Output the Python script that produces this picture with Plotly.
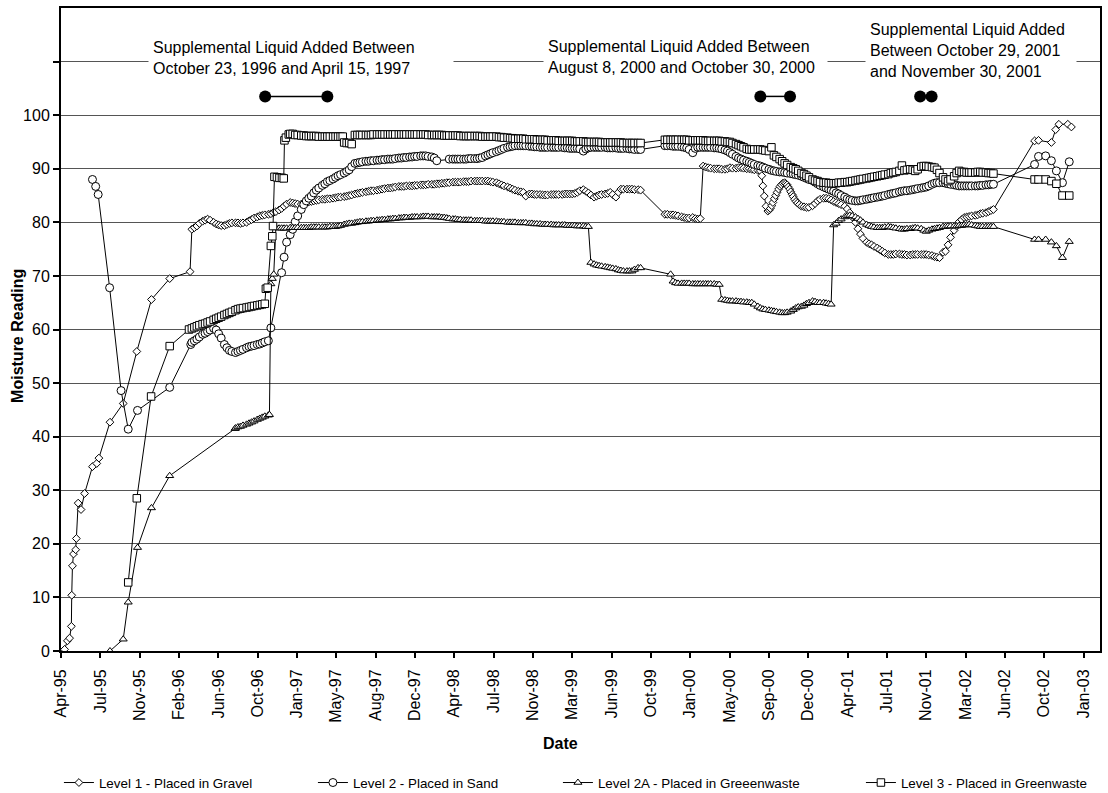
import plotly.graph_objects as go

FONT = "Arial, 'Liberation Sans', sans-serif"

# Routine monitoring days within each month; monthly rows below list the
# readings taken on these days (None = no reading that day).
READING_DAYS = (1, 8, 15, 22)

# ---------------- Level 1 - Placed in Gravel ----------------
L1_SPOT = [
    ("1995-04-11", 0.3), ("1995-04-19", 1.9), ("1995-04-25", 2.4), ("1995-04-30", 4.6),
    ("1995-05-01", 10.4), ("1995-05-03", 15.9), ("1995-05-06", 18.1), ("1995-05-12", 18.9),
    ("1995-05-14", 21.0), ("1995-05-19", 27.6), ("1995-05-27", 26.4), ("1995-06-06", 29.4),
    ("1995-06-28", 34.4), ("1995-07-10", 35.0), ("1995-07-16", 36.0), ("1995-08-16", 42.7),
    ("1995-09-22", 46.2), ("1995-10-30", 55.9), ("1995-12-10", 65.6), ("1996-01-30", 69.5),
    ("1996-03-27", 70.8),
    ("2000-08-12", 88.7), ("2000-08-15", 86.8), ("2000-08-19", 84.9), ("2000-08-24", 83.0),
    ("2000-08-29", 82.1), ("2000-09-02", 82.3), ("2000-09-05", 82.6), ("2000-09-09", 83.1),
    ("2000-09-12", 83.7), ("2000-09-16", 84.4), ("2000-09-20", 85.0), ("2000-09-24", 85.6),
    ("2000-09-28", 86.2), ("2000-10-02", 86.7), ("2000-10-06", 87.0), ("2000-10-10", 87.3),
    ("2000-10-15", 87.4), ("2000-10-18", 87.2), ("2000-10-22", 87.0), ("2000-10-25", 86.6),
    ("2000-10-29", 86.2), ("2000-11-01", 85.7), ("2000-11-05", 85.2), ("2000-11-08", 84.8),
    ("2000-11-12", 84.3), ("2000-11-16", 83.9), ("2000-11-20", 83.6), ("2000-11-25", 83.3),
    ("2002-09-14", 95.2), ("2002-09-25", 95.3), ("2002-10-31", 94.9), ("2002-11-12", 97.3),
    ("2002-11-21", 98.3), ("2002-12-16", 98.3), ("2002-12-26", 97.8),
]
L1_MONTHLY = [
    ("1996-04", 78.7, 79.0, 79.3, 79.8), ("1996-05", 80.2, 80.4, 80.6, 80.4),
    ("1996-06", 80.0, 79.7, 79.5, 79.4), ("1996-07", 79.4, 79.6, 79.8, 79.9),
    ("1996-08", 79.9, 79.9, 79.8, 79.9), ("1996-09", 80.0, 80.3, 80.5, 80.8),
    ("1996-10", 81.0, 81.2, 81.3, 81.4), ("1996-11", 81.5, 81.6, 81.8, 82.0),
    ("1996-12", 82.3, 82.6, 83.0, 83.4), ("1997-01", 83.7, 83.6, 83.5, 83.4),
    ("1997-02", 83.4, 83.5, 83.7, 83.8), ("1997-03", 83.9, 84.0, 84.1, 84.2),
    ("1997-04", 84.3, 84.3, 84.4, 84.4), ("1997-05", 84.5, 84.6, 84.7, 84.7),
    ("1997-06", 84.8, 84.9, 85.0, 85.1), ("1997-07", 85.3, 85.4, 85.5, 85.6),
    ("1997-08", 85.7, 85.8, 85.9, 85.9), ("1997-09", 86.0, 86.1, 86.2, 86.3),
    ("1997-10", 86.4, 86.4, 86.5, 86.6), ("1997-11", 86.7, 86.7, 86.7, 86.8),
    ("1997-12", 86.8, 86.8, 86.9, 86.9), ("1998-01", 87.0, 87.0, 87.0, 87.1),
    ("1998-02", 87.1, 87.1, 87.2, 87.2), ("1998-03", 87.3, 87.3, 87.4, 87.4),
    ("1998-04", 87.5, 87.5, 87.5, 87.5), ("1998-05", 87.6, 87.6, 87.6, 87.7),
    ("1998-06", 87.7, 87.7, 87.7, 87.7), ("1998-07", 87.7, 87.7, 87.6, 87.5),
    ("1998-08", 87.4, 87.2, 87.0, 86.8), ("1998-09", 86.6, 86.4, 86.2, 86.0),
    ("1998-10", 85.8, 85.7, 85.6, 84.9), ("1998-11", 85.3, 85.3, 85.2, 85.2),
    ("1998-12", 85.2, 85.1, 85.1, 85.1), ("1999-01", 85.2, 85.2, 85.2, 85.2),
    ("1999-02", 85.2, 85.3, 85.3, 85.3), ("1999-03", 85.3, 85.4, 85.6, 85.9),
    ("1999-04", 86.1, 85.8, 85.5, 85.1), ("1999-05", 84.7, 84.9, 85.1, 85.2),
    ("1999-06", 85.3, 85.4, 85.6, 85.2), ("1999-07", 84.7, 85.6, 86.2, 86.2),
    ("1999-08", 86.2, 86.2, 86.2, 86.1), ("1999-09", 86.1, 86.0, None, None),
    ("1999-11", None, None, 81.5, 81.5), ("1999-12", 81.4, 81.4, 81.3, 81.2),
    ("2000-01", 81.0, 80.9, 80.8, 80.8), ("2000-02", 80.9, 80.7, 80.6, 80.7),
    ("2000-03", 90.5, 90.3, 90.2, 90.1), ("2000-04", 90.0, 90.0, 90.0, 89.9),
    ("2000-05", 89.9, 90.0, 90.2, 90.1), ("2000-06", 90.1, 90.2, 90.2, 90.1),
    ("2000-07", 90.0, 90.0, 89.9, 89.8), ("2000-08", 89.7, 89.6, None, None),
    ("2000-12", 83.0, 82.9, 82.8, 82.8), ("2001-01", 83.1, 83.5, 84.0, 84.3),
    ("2001-02", 84.5, 84.5, 84.4, 84.2), ("2001-03", 83.9, 83.7, 83.5, 83.3),
    ("2001-04", 83.0, 82.5, 81.8, 81.0), ("2001-05", 80.0, 78.8, 77.8, 77.0),
    ("2001-06", 76.3, 76.0, 75.8, 75.5), ("2001-07", 75.2, 74.9, 74.6, 74.3),
    ("2001-08", 74.0, 74.0, 74.0, 74.1), ("2001-09", 74.1, 74.0, 74.0, 73.9),
    ("2001-10", 73.9, 74.0, 74.0, 74.0), ("2001-11", 74.0, 74.0, 74.0, 73.9),
    ("2001-12", 73.8, 73.6, 73.5, 73.4), ("2002-01", 74.4, 74.6, 75.8, 77.2),
    ("2002-02", 78.5, 79.3, 80.1, 80.5), ("2002-03", 80.9, 81.0, 81.1, 81.2),
    ("2002-04", 81.3, 81.4, 81.6, 81.7), ("2002-05", 81.8, 82.0, 82.2, 82.4),
]

# ---------------- Level 2 - Placed in Sand ----------------
L2_SPOT = [
    ("1995-06-28", 88.0), ("1995-07-07", 86.7), ("1995-07-14", 85.2), ("1995-08-15", 67.8),
    ("1995-09-16", 48.6), ("1995-10-06", 41.4), ("1995-11-01", 44.9), ("1996-01-30", 49.2),
    ("1996-03-29", 57.2),
    ("2002-09-14", 90.8), ("2002-09-25", 92.3), ("2002-10-15", 92.4), ("2002-10-31", 91.5),
    ("2002-11-14", 89.6), ("2002-12-01", 87.4), ("2002-12-20", 91.3),
]
L2_MONTHLY = [
    ("1996-04", 57.6, 57.9, 58.2, 58.6), ("1996-05", 59.1, 59.3, 59.6, 59.9),
    ("1996-06", 60.2, 59.9, 59.2, 58.4), ("1996-07", 57.2, 56.6, 56.1, 55.9),
    ("1996-08", 55.7, 55.9, 56.1, 56.3), ("1996-09", 56.6, 56.8, 56.9, 57.0),
    ("1996-10", 57.2, 57.3, 57.5, 57.7), ("1996-11", 57.9, 60.3, None, None),
    ("1996-12", None, 70.6, 73.5, 76.3), ("1997-01", 77.7, 78.7, 80.1, 81.2),
    ("1997-02", 82.4, 83.3, 84.0, 84.5), ("1997-03", 84.9, 85.5, 86.0, 86.4),
    ("1997-04", 86.9, 87.2, 87.6, 87.8), ("1997-05", 88.1, 88.4, 88.7, 88.9),
    ("1997-06", 89.2, 89.5, 89.8, 90.4), ("1997-07", 91.0, 91.1, 91.2, 91.3),
    ("1997-08", 91.4, 91.4, 91.5, 91.5), ("1997-09", 91.6, 91.6, 91.7, 91.7),
    ("1997-10", 91.8, 91.8, 91.8, 91.9), ("1997-11", 92.0, 92.0, 92.1, 92.1),
    ("1997-12", 92.2, 92.2, 92.3, 92.3), ("1998-01", 92.4, 92.4, 92.4, 92.3),
    ("1998-02", 92.2, 92.0, 91.5, None), ("1998-03", None, None, None, 91.8),
    ("1998-04", 91.8, 91.8, 91.8, 91.8), ("1998-05", 91.8, 91.8, 91.9, 91.9),
    ("1998-06", 91.9, 91.9, 92.0, 92.1), ("1998-07", 92.4, 92.6, 92.8, 93.0),
    ("1998-08", 93.2, 93.4, 93.6, 93.8), ("1998-09", 94.0, 94.1, 94.2, 94.3),
    ("1998-10", 94.3, 94.3, 94.3, 94.3), ("1998-11", 94.2, 94.2, 94.1, 94.1),
    ("1998-12", 94.0, 94.0, 94.0, 94.0), ("1999-01", 94.0, 94.0, 94.0, 94.0),
    ("1999-02", 94.0, 93.9, 93.9, 93.8), ("1999-03", 93.8, 93.8, 93.8, 93.7),
    ("1999-04", 93.3, 93.7, 93.9, 94.0), ("1999-05", 94.0, 94.0, 94.0, 94.0),
    ("1999-06", 94.0, 93.9, 93.9, 93.9), ("1999-07", 93.9, 93.8, 93.8, 93.8),
    ("1999-08", 93.8, 93.7, 93.7, 93.6), ("1999-09", 93.6, 93.6, None, None),
    ("1999-11", None, None, 94.3, 94.3), ("1999-12", 94.3, 94.2, 94.2, 94.2),
    ("2000-01", 94.1, 94.0, 93.9, 93.6), ("2000-02", 93.0, 93.8, 94.0, 94.0),
    ("2000-03", 94.0, 94.0, 94.0, 94.0), ("2000-04", 93.9, 93.9, 93.8, 93.7),
    ("2000-05", 93.5, 93.3, 93.0, 92.7), ("2000-06", 92.3, 92.0, 91.8, 91.6),
    ("2000-07", 91.4, 91.2, 91.0, 90.8), ("2000-08", 90.6, 90.5, 90.3, 90.1),
    ("2000-09", 89.9, 89.7, 89.6, 89.5), ("2000-10", 89.4, 89.4, 89.3, 89.2),
    ("2000-11", 89.1, 89.0, 88.9, 88.8), ("2000-12", 88.6, 88.4, 88.2, 88.0),
    ("2001-01", 87.8, 87.5, 87.2, 86.9), ("2001-02", 86.6, 86.4, 86.2, 86.0),
    ("2001-03", 85.8, 85.5, 85.3, 85.0), ("2001-04", 84.7, 84.4, 84.2, 84.1),
    ("2001-05", 84.0, 84.0, 84.1, 84.2), ("2001-06", 84.3, 84.4, 84.5, 84.6),
    ("2001-07", 84.7, 84.8, 84.9, 85.0), ("2001-08", 85.2, 85.3, 85.4, 85.5),
    ("2001-09", 85.7, 85.8, 85.9, 85.9), ("2001-10", 86.0, 86.1, 86.2, 86.3),
    ("2001-11", 86.4, 86.5, 86.6, 86.8), ("2001-12", 87.1, 87.3, 87.4, 87.4),
    ("2002-01", 87.4, 87.3, 87.2, 87.1), ("2002-02", 87.0, 86.9, 86.8, 86.8),
    ("2002-03", 86.8, 86.8, 86.8, 86.8), ("2002-04", 86.8, 86.8, 86.9, 86.9),
    ("2002-05", 87.0, 87.0, 87.1, 87.1),
]

# ---------------- Level 2A - Placed in Greeenwaste ----------------
L2A_SPOT = [
    ("1995-08-16", 0.0), ("1995-09-22", 2.2), ("1995-10-06", 9.1), ("1995-11-01", 19.3),
    ("1995-12-10", 26.7), ("1996-01-30", 32.7), ("1996-07-31", 41.5),
    ("1996-11-04", 44.1), ("1996-11-08", 68.5), ("1996-11-12", 69.5), ("1996-11-16", 70.3),
    ("1996-11-22", 79.0),
    ("2002-09-14", 76.8), ("2002-09-25", 76.8), ("2002-10-15", 76.8), ("2002-10-31", 76.3),
    ("2002-11-14", 75.6), ("2002-12-01", 73.4), ("2002-12-20", 76.4),
]
L2A_MONTHLY = [
    ("1996-08", 41.6, 41.8, 41.9, 42.1), ("1996-09", 42.3, 42.5, 42.7, 42.9),
    ("1996-10", 43.2, 43.4, 43.6, 43.8), ("1996-11", 44.0, None, None, None),
    ("1996-12", 78.9, 78.9, 78.9, 78.9), ("1997-01", 79.0, 79.0, 79.0, 79.0),
    ("1997-02", 79.0, 79.0, 79.0, 79.0), ("1997-03", 79.1, 79.1, 79.1, 79.1),
    ("1997-04", 79.1, 79.1, 79.1, 79.2), ("1997-05", 79.2, 79.2, 79.3, 79.4),
    ("1997-06", 79.6, 79.7, 79.8, 79.8), ("1997-07", 79.9, 80.0, 80.1, 80.1),
    ("1997-08", 80.2, 80.2, 80.3, 80.3), ("1997-09", 80.4, 80.4, 80.5, 80.5),
    ("1997-10", 80.6, 80.6, 80.7, 80.7), ("1997-11", 80.8, 80.8, 80.9, 80.9),
    ("1997-12", 80.9, 81.0, 81.0, 81.0), ("1998-01", 81.0, 81.1, 81.1, 81.1),
    ("1998-02", 81.0, 81.0, 81.0, 81.0), ("1998-03", 80.9, 80.9, 80.8, 80.7),
    ("1998-04", 80.6, 80.6, 80.5, 80.5), ("1998-05", 80.4, 80.4, 80.4, 80.4),
    ("1998-06", 80.3, 80.3, 80.3, 80.3), ("1998-07", 80.2, 80.2, 80.2, 80.2),
    ("1998-08", 80.2, 80.1, 80.1, 80.1), ("1998-09", 80.0, 80.0, 80.0, 80.0),
    ("1998-10", 79.9, 79.9, 79.9, 79.9), ("1998-11", 79.8, 79.8, 79.7, 79.7),
    ("1998-12", 79.7, 79.6, 79.6, 79.6), ("1999-01", 79.6, 79.5, 79.5, 79.5),
    ("1999-02", 79.5, 79.5, 79.4, 79.4), ("1999-03", 79.4, 79.4, 79.3, 79.3),
    ("1999-04", 79.3, 79.2, 79.2, 72.5), ("1999-05", 72.2, 72.0, 71.9, 71.8),
    ("1999-06", 71.7, 71.6, 71.5, 71.4), ("1999-07", 71.3, 71.1, 71.0, 70.9),
    ("1999-08", 70.9, 70.9, 70.9, 71.2), ("1999-09", 71.5, 71.5, None, None),
    ("1999-12", 70.3, 69.0, 68.7, 68.6), ("2000-01", 68.6, 68.6, 68.6, 68.6),
    ("2000-02", 68.5, 68.5, 68.5, 68.5), ("2000-03", 68.5, 68.5, 68.5, 68.5),
    ("2000-04", 68.5, 68.4, 68.4, 65.6), ("2000-05", 65.5, 65.4, 65.3, 65.3),
    ("2000-06", 65.3, 65.2, 65.2, 65.1), ("2000-07", 65.1, 65.0, 65.0, 64.7),
    ("2000-08", 64.3, 64.0, 63.8, 63.7), ("2000-09", 63.6, 63.5, 63.4, 63.3),
    ("2000-10", 63.2, 63.1, 63.1, 63.2), ("2000-11", 63.4, 63.7, 64.0, 64.2),
    ("2000-12", 64.3, 64.5, 64.8, 65.0), ("2001-01", 65.3, 65.2, 65.0, 65.0),
    ("2001-02", 65.0, 64.9, 64.8, 64.7), ("2001-03", 79.5, 79.8, 80.3, 80.6),
    ("2001-04", 81.0, 81.2, 81.3, 81.2), ("2001-05", 81.0, 80.7, 80.4, 80.0),
    ("2001-06", 79.6, 79.4, 79.2, 79.1), ("2001-07", 79.0, 79.0, 79.0, 79.1),
    ("2001-08", 79.2, 79.1, 79.0, 78.9), ("2001-09", 78.8, 78.7, 78.7, 78.8),
    ("2001-10", 78.8, 78.9, 79.0, 78.9), ("2001-11", 78.8, 78.5, 78.3, 78.5),
    ("2001-12", 78.7, 78.8, 78.9, 79.0), ("2002-01", 79.2, 79.2, 79.3, 79.3),
    ("2002-02", 79.3, 79.3, 79.4, 79.4), ("2002-03", 79.5, 79.5, 79.6, 79.5),
    ("2002-04", 79.4, 79.3, 79.2, 79.2), ("2002-05", 79.2, 79.2, 79.2, 79.2),
]

# ---------------- Level 3 - Placed in Greenwaste ----------------
L3_SPOT = [
    ("1995-10-06", 12.8), ("1995-10-30", 28.5), ("1995-12-09", 47.5), ("1996-01-30", 56.9),
    ("1996-03-24", 60.0),
    ("1996-10-25", 67.6), ("1996-10-30", 67.8), ("1996-11-08", 75.6), ("1996-11-12", 77.4),
    ("1996-11-14", 79.3), ("1996-11-18", 88.5), ("1996-11-25", 88.4), ("1996-12-02", 88.3),
    ("1996-12-09", 88.3), ("1996-12-14", 88.2), ("1996-12-16", 95.3), ("1996-12-20", 95.8),
    ("1996-12-28", 96.4), ("1997-05-28", 96.0),
    ("2002-09-14", 88.0), ("2002-09-25", 88.0), ("2002-10-15", 88.0), ("2002-10-31", 87.7),
    ("2002-11-14", 87.2), ("2002-12-01", 85.0), ("2002-12-20", 85.0),
]
L3_MONTHLY = [
    ("1996-04", 60.2, 60.4, 60.6, 60.8), ("1996-05", 61.0, 61.1, 61.3, 61.5),
    ("1996-06", 61.8, 62.0, 62.2, 62.4), ("1996-07", 62.7, 62.9, 63.1, 63.3),
    ("1996-08", 63.6, 63.8, 63.9, 64.0), ("1996-09", 64.1, 64.2, 64.3, 64.4),
    ("1996-10", 64.5, 64.6, 64.7, 64.8), ("1997-01", 96.5, 96.5, 96.3, 96.3),
    ("1997-02", 96.2, 96.2, 96.1, 96.1), ("1997-03", 96.1, 96.1, 96.1, 96.0),
    ("1997-04", 96.0, 96.0, 96.0, 96.0), ("1997-05", 96.0, 96.0, 96.0, 96.0),
    ("1997-06", 94.9, 94.8, 94.8, 94.6), ("1997-07", 96.3, 96.3, 96.3, 96.3),
    ("1997-08", 96.3, 96.3, 96.3, 96.4), ("1997-09", 96.4, 96.4, 96.4, 96.4),
    ("1997-10", 96.4, 96.4, 96.4, 96.4), ("1997-11", 96.4, 96.4, 96.4, 96.4),
    ("1997-12", 96.4, 96.4, 96.4, 96.4), ("1998-01", 96.4, 96.4, 96.4, 96.3),
    ("1998-02", 96.3, 96.3, 96.3, 96.3), ("1998-03", 96.3, 96.2, 96.2, 96.2),
    ("1998-04", 96.2, 96.2, 96.2, 96.1), ("1998-05", 96.1, 96.1, 96.1, 96.1),
    ("1998-06", 96.1, 96.1, 96.1, 96.0), ("1998-07", 96.0, 96.0, 96.0, 96.0),
    ("1998-08", 96.0, 95.9, 95.9, 95.8), ("1998-09", 95.8, 95.7, 95.7, 95.6),
    ("1998-10", 95.6, 95.6, 95.6, 95.5), ("1998-11", 95.5, 95.5, 95.5, 95.4),
    ("1998-12", 95.4, 95.4, 95.4, 95.3), ("1999-01", 95.3, 95.3, 95.3, 95.2),
    ("1999-02", 95.2, 95.2, 95.2, 95.2), ("1999-03", 95.2, 95.1, 95.1, 95.1),
    ("1999-04", 95.1, 95.0, 95.0, 95.0), ("1999-05", 95.0, 95.0, 95.0, 94.9),
    ("1999-06", 94.9, 94.9, 94.9, 94.9), ("1999-07", 94.9, 94.9, 94.9, 94.8),
    ("1999-08", 94.8, 94.8, 94.8, 94.8), ("1999-09", 94.8, 94.8, None, None),
    ("1999-11", None, None, 95.4, 95.4), ("1999-12", 95.4, 95.4, 95.4, 95.4),
    ("2000-01", 95.4, 95.4, 95.4, 95.3), ("2000-02", 95.3, 95.3, 95.3, 95.3),
    ("2000-03", 95.3, 95.2, 95.2, 95.2), ("2000-04", 95.2, 95.2, 95.2, 95.1),
    ("2000-05", 95.1, 95.0, 95.0, 94.8), ("2000-06", 94.6, 94.4, 94.2, 94.0),
    ("2000-07", 93.7, 93.6, 93.6, 93.6), ("2000-08", 93.6, 93.6, 93.5, 93.4),
    ("2000-09", 93.3, 94.0, 92.5, 92.2), ("2000-10", 91.8, 91.4, 91.0, 90.7),
    ("2000-11", 90.3, 90.1, 89.9, 89.6), ("2000-12", 89.2, 89.0, 88.7, 88.4),
    ("2001-01", 88.0, 87.8, 87.7, 87.5), ("2001-02", 87.4, 87.4, 87.3, 87.3),
    ("2001-03", 87.3, 87.3, 87.4, 87.4), ("2001-04", 87.5, 87.5, 87.6, 87.7),
    ("2001-05", 87.8, 87.9, 88.0, 88.1), ("2001-06", 88.2, 88.3, 88.4, 88.5),
    ("2001-07", 88.6, 88.7, 88.8, 88.9), ("2001-08", 89.0, 89.2, 89.3, 89.4),
    ("2001-09", 89.6, 90.6, 89.7, 89.8), ("2001-10", 89.9, 89.8, 89.6, 89.9),
    ("2001-11", 90.4, 90.5, 90.5, 90.4), ("2001-12", 90.3, 90.2, 89.8, 89.2),
    ("2002-01", 88.4, 88.0, 87.7, 88.0), ("2002-02", 88.6, 89.2, 89.6, 89.4),
    ("2002-03", 89.4, 89.3, 89.3, 89.3), ("2002-04", 89.3, 89.4, 89.4, 89.3),
    ("2002-05", 89.3, 89.2, 89.2, 89.1),
]

SERIES_NAMES = [
    "Level 1 - Placed in Gravel",
    "Level 2 - Placed in Sand",
    "Level 2A - Placed in Greeenwaste",
    "Level 3 - Placed in Greenwaste",
]

# Supplemental liquid addition periods: (start, end, caption)
SUPPLEMENT_PERIODS = [
    ("1996-10-23", "1997-04-15",
     "Supplemental Liquid Added Between<br>October 23, 1996 and April 15, 1997"),
    ("2000-08-08", "2000-10-30",
     "Supplemental Liquid Added Between<br>August 8, 2000 and October 30, 2000"),
    ("2001-10-29", "2001-11-30",
     "Supplemental Liquid Added<br>Between October 29, 2001<br>and November 30, 2001"),
]
PERIOD_MARK_LEVEL = 103.5

# Date axis ticks (110-day major unit)
TICK_DATES = [
    "1995-04-01", "1995-07-20", "1995-11-07", "1996-02-25", "1996-06-14", "1996-10-02",
    "1997-01-20", "1997-05-10", "1997-08-28", "1997-12-16", "1998-04-05", "1998-07-24",
    "1998-11-11", "1999-03-01", "1999-06-19", "1999-10-07", "2000-01-25", "2000-05-14",
    "2000-09-01", "2000-12-20", "2001-04-09", "2001-07-28", "2001-11-15", "2002-03-05",
    "2002-06-23", "2002-10-11", "2003-01-29",
]
Y_TICKS = [0, 10, 20, 30, 40, 50, 60, 70, 80, 90, 100, 110]
Y_TICK_TEXT = ["0", "10", "20", "30", "40", "50", "60", "70", "80", "90", "100", ""]

X_RANGE = ["1995-04-01", "2003-03-16"]
Y_RANGE = [0, 120]


def combine(spot, monthly):
    """Merge spot readings with the routine monthly rows, ordered by date."""
    pts = list(spot)
    for month, *vals in monthly:
        for day, v in zip(READING_DAYS, vals):
            if v is not None:
                pts.append((f"{month}-{day:02d}", v))
    pts.sort()
    return pts


SERIES_DATA = [
    combine(L1_SPOT, L1_MONTHLY),
    combine(L2_SPOT, L2_MONTHLY),
    combine(L2A_SPOT, L2A_MONTHLY),
    combine(L3_SPOT, L3_MONTHLY),
]

# marker style per series: (symbol, size, legend entry width)
STYLES = [("diamond", 6, 209), ("circle", 8, 200), ("triangle-up", 7, 258), ("square", 7.5, 200)]

fig = go.Figure()

for name, readings, (symbol, size, lw) in zip(SERIES_NAMES, SERIES_DATA, STYLES):
    fig.add_trace(go.Scatter(
        x=[d for d, _ in readings],
        y=[v for _, v in readings],
        name=name,
        mode="lines+markers",
        line=dict(color="black", width=1),
        marker=dict(symbol=symbol, size=size, color="white",
                    line=dict(color="black", width=1)),
        legendwidth=lw,
    ))

# period markers: filled dots joined by a line
px, py = [], []
for start, end, _ in SUPPLEMENT_PERIODS:
    px += [start, end, None]
    py += [PERIOD_MARK_LEVEL, PERIOD_MARK_LEVEL, None]
fig.add_trace(go.Scatter(
    x=px, y=py, mode="lines+markers", showlegend=False,
    line=dict(color="black", width=1.5),
    marker=dict(symbol="circle", size=12, color="black"),
))

# caption boxes (left edge in paper coords, vertical centre, box width)
CAPTION_BOXES = [(0.0837, 0.923, 296), (0.4639, 0.9243, 275), (0.7738, 0.9339, 202)]
annotations = []
for (_, _, text), (bx, by, bw) in zip(SUPPLEMENT_PERIODS, CAPTION_BOXES):
    annotations.append(dict(
        text=text, xref="paper", yref="paper", x=bx, y=by,
        xanchor="left", yanchor="middle", align="left", showarrow=False,
        width=bw, bgcolor="white", borderpad=4,
        font=dict(family=FONT, size=16, color="black"),
    ))

annotations.append(dict(
    text="<b>Moisture Reading</b>", xref="paper", yref="paper",
    x=-0.0414, y=0.49, xanchor="center", yanchor="middle", textangle=-90,
    showarrow=False, font=dict(family=FONT, size=16, color="black"),
))
annotations.append(dict(
    text="<b>Date</b>", xref="paper", yref="paper",
    x=0.481, y=-0.1446, xanchor="center", yanchor="middle",
    showarrow=False, font=dict(family=FONT, size=16, color="black"),
))

fig.update_layout(
    width=1108, height=793,
    margin=dict(l=61, r=8, t=8, b=142, autoexpand=False),
    paper_bgcolor="white", plot_bgcolor="white",
    font=dict(family=FONT, size=16, color="black"),
    annotations=annotations,
    legend=dict(
        orientation="h", x=-0.002, y=-0.205, xanchor="left", yanchor="middle",
        font=dict(family=FONT, size=13.4, color="black"),
        itemwidth=30, bgcolor="rgba(0,0,0,0)", borderwidth=0,
        traceorder="normal",
    ),
    xaxis=dict(
        type="date", range=X_RANGE, tickvals=TICK_DATES, tickformat="%b-%y",
        tickangle=-90, ticks="outside", ticklen=5, tickwidth=1.5, tickcolor="black",
        ticklabelstandoff=5,
        showgrid=False, showline=True, linecolor="black", linewidth=2, mirror=True,
        zeroline=False, tickfont=dict(family=FONT, size=16, color="black"),
    ),
    xaxis2=dict(
        type="date", range=X_RANGE, tickvals=TICK_DATES, overlaying="x", anchor="y",
        ticks="inside", ticklen=5, tickwidth=1.5, tickcolor="black",
        showticklabels=False, showgrid=False, showline=False, zeroline=False,
    ),
    yaxis=dict(
        range=Y_RANGE, tickvals=Y_TICKS, ticktext=Y_TICK_TEXT,
        ticks="outside", ticklen=6, tickwidth=1.5, tickcolor="black",
        showgrid=True, gridcolor="#555555", gridwidth=1,
        showline=True, linecolor="black", linewidth=2, mirror=True,
        zeroline=False, tickfont=dict(family=FONT, size=16, color="black"),
    ),
)

fig.write_html("out.html")
